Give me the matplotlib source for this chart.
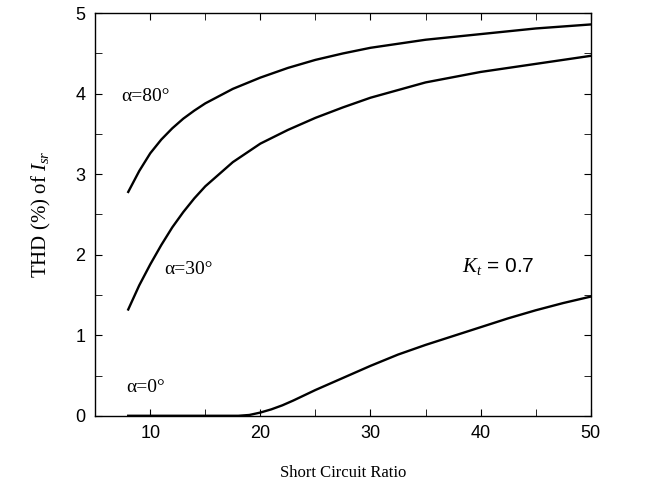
import matplotlib
matplotlib.use("Agg")
import matplotlib.pyplot as plt
from matplotlib.ticker import MultipleLocator

# 数据
scr_80 = [8, 9, 10, 11, 12, 13, 14, 15, 17.5, 20, 22.5, 25, 27.5, 30, 35, 40, 45, 50]
thd_80 = [2.78, 3.04, 3.26, 3.43, 3.57, 3.69, 3.79, 3.88, 4.06, 4.20, 4.32, 4.42,
          4.50, 4.57, 4.67, 4.74, 4.81, 4.86]

scr_30 = [8, 9, 10, 11, 12, 13, 14, 15, 17.5, 20, 22.5, 25, 27.5, 30, 35, 40, 45, 50]
thd_30 = [1.32, 1.62, 1.88, 2.12, 2.34, 2.53, 2.70, 2.85, 3.15, 3.38, 3.55, 3.70,
          3.83, 3.95, 4.14, 4.27, 4.37, 4.47]

scr_0 = [8, 12, 16, 18, 19, 20, 21, 22, 23, 25, 27.5, 30, 32.5, 35, 37.5, 40,
         42.5, 45, 47.5, 50]
thd_0 = [0, 0, 0, 0, 0.01, 0.04, 0.08, 0.13, 0.19, 0.32, 0.47, 0.62, 0.76, 0.88,
         0.99, 1.10, 1.21, 1.31, 1.40, 1.48]

curve_labels = ["α=80°", "α=30°", "α=0°"]

plt.rcParams['mathtext.fontset'] = 'custom'
plt.rcParams['mathtext.it'] = 'Liberation Serif:italic'
plt.rcParams['mathtext.rm'] = 'Liberation Serif'

fig = plt.figure(figsize=(6.52, 4.88), dpi=100)
ax = fig.add_axes([0.146, 0.148, 0.76, 0.825])

ax.plot(scr_80, thd_80, 'k-', lw=1.7)
ax.plot(scr_30, thd_30, 'k-', lw=1.7)
ax.plot(scr_0, thd_0, 'k-', lw=1.7)

ax.set_xlim(5, 50)
ax.set_ylim(0, 5)
ax.xaxis.set_major_locator(MultipleLocator(10))
ax.xaxis.set_minor_locator(MultipleLocator(5))
ax.yaxis.set_major_locator(MultipleLocator(1))
ax.yaxis.set_minor_locator(MultipleLocator(0.5))
ax.tick_params(which='both', direction='in', top=True, right=True,
               labelsize=13, pad=7, length=5)
for lab in ax.get_xticklabels() + ax.get_yticklabels():
    lab.set_family('Liberation Sans')
for sp in ax.spines.values():
    sp.set_linewidth(1.0)

serif = 'Liberation Serif'
ax.text(7.4, 3.96, curve_labels[0], family=serif, fontsize=14, va='center')
ax.text(11.3, 1.82, curve_labels[1], family=serif, fontsize=14, va='center')
ax.text(7.8, 0.35, curve_labels[2], family=serif, fontsize=14, va='center')
ax.text(38.3, 1.86, r"$K_t$ = 0.7", family='Liberation Sans', fontsize=15,
        va='center')

ax.set_xlabel("Short Circuit Ratio", family=serif, fontsize=12, labelpad=16)
ax.set_ylabel(r"THD (%) of $I_{sr}$", family=serif, fontsize=15, labelpad=16)

plt.savefig("out.png", dpi=100)
